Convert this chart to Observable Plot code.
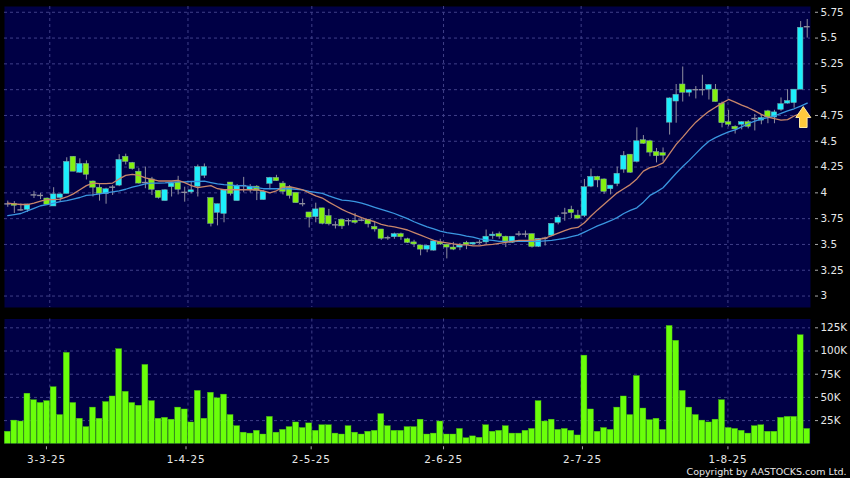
<!DOCTYPE html>
<html><head><meta charset="utf-8">
<script src="https://cdn.jsdelivr.net/npm/d3@7"></script>
<script src="https://cdn.jsdelivr.net/npm/@observablehq/plot@0.6"></script>
<style>html,body{margin:0;padding:0;background:#000;width:850px;height:478px;overflow:hidden}svg{display:block}
g[aria-label="x-axis tick label"]{letter-spacing:.8px}</style>
</head><body><div id="c"></div>
<script>
const opens=[3.893,3.893,3.835,3.835,3.98,3.975,3.945,3.868,3.95,3.99,4.35,4.195,4.28,4.11,4.05,3.987,4.055,4.07,4.35,4.29,4.205,4.10,4.13,4.02,3.92,4.055,4.10,4.005,4.005,4.06,4.165,3.95,3.806,3.796,4.10,3.92,4.07,4.03,4.06,3.93,4.087,4.145,4.09,4.05,4.0,3.895,3.81,3.765,3.85,3.775,3.69,3.74,3.73,3.73,3.735,3.74,3.67,3.645,3.565,3.57,3.60,3.55,3.52,3.49,3.45,3.44,3.52,3.497,3.47,3.47,3.516,3.5,3.52,3.52,3.58,3.60,3.575,3.516,3.60,3.60,3.60,3.477,3.56,3.585,3.71,3.804,3.836,3.78,3.775,4.06,4.155,4.13,4.035,4.085,4.225,4.37,4.30,4.51,4.50,4.395,4.385,4.68,4.885,5.05,4.97,5.0,5.0,5.0,5.0,4.865,4.685,4.64,4.66,4.685,4.72,4.70,4.79,4.73,4.805,4.865,4.87,5.0,5.61];
const closes=[3.893,3.875,3.835,3.887,3.98,3.975,3.885,3.985,3.985,4.30,4.205,4.28,4.175,4.05,3.99,4.035,4.055,4.32,4.30,4.23,4.09,4.10,4.03,3.95,4.025,4.09,4.03,4.005,4.025,4.25,4.25,3.70,3.89,4.025,3.99,4.065,4.07,4.06,4.02,4.01,4.145,4.113,4.01,3.97,3.90,3.895,3.76,3.84,3.70,3.695,3.69,3.675,3.73,3.71,3.735,3.695,3.645,3.555,3.565,3.60,3.57,3.515,3.50,3.45,3.487,3.53,3.50,3.47,3.45,3.49,3.497,3.516,3.52,3.575,3.595,3.575,3.52,3.575,3.60,3.60,3.475,3.555,3.56,3.70,3.76,3.804,3.804,3.75,4.055,4.155,4.12,4.01,4.07,4.185,4.36,4.195,4.50,4.475,4.39,4.355,4.36,4.915,4.95,4.97,4.995,5.0,5.0,5.045,4.88,4.675,4.66,4.615,4.685,4.64,4.72,4.725,4.73,4.78,4.86,4.89,5.0,5.60,5.61];
const highs=[3.92,3.915,3.893,3.89,4.015,3.995,3.95,4.05,3.99,4.34,4.35,4.33,4.31,4.115,4.08,4.045,4.07,4.37,4.375,4.295,4.235,4.25,4.15,4.02,4.03,4.10,4.16,4.055,4.11,4.27,4.28,3.95,3.89,4.03,4.10,4.08,4.15,4.08,4.07,4.02,4.15,4.17,4.11,4.07,4.0,3.94,3.81,3.90,3.85,3.84,3.72,3.74,3.745,3.80,3.75,3.74,3.72,3.645,3.58,3.61,3.61,3.56,3.54,3.49,3.49,3.54,3.55,3.50,3.52,3.51,3.53,3.52,3.54,3.64,3.62,3.62,3.58,3.575,3.625,3.63,3.60,3.555,3.57,3.70,3.78,3.85,3.87,3.83,4.13,4.23,4.16,4.135,4.07,4.25,4.40,4.37,4.63,4.555,4.51,4.43,4.435,4.92,5.05,5.22,5.0,5.03,5.14,5.05,5.05,4.88,4.8,4.65,4.69,4.7,4.76,4.76,4.8,4.8,4.92,5.0,5.0,5.66,5.68];
const lows=[3.86,3.80,3.82,3.81,3.945,3.935,3.88,3.868,3.91,3.99,4.205,4.19,4.125,3.96,3.92,3.89,3.975,4.06,4.27,4.22,4.085,4.04,3.975,3.94,3.92,3.96,3.98,3.91,3.99,3.96,4.14,3.67,3.68,3.71,3.97,3.92,4.0,4.0,3.925,3.93,4.03,4.11,3.98,3.94,3.90,3.865,3.66,3.71,3.69,3.68,3.65,3.645,3.68,3.695,3.72,3.66,3.62,3.54,3.54,3.55,3.54,3.51,3.47,3.39,3.42,3.435,3.49,3.36,3.44,3.44,3.45,3.495,3.50,3.50,3.55,3.55,3.47,3.51,3.575,3.565,3.465,3.47,3.485,3.575,3.69,3.725,3.75,3.74,3.76,4.05,4.05,3.985,3.98,4.06,4.19,4.19,4.29,4.47,4.35,4.29,4.30,4.56,4.675,4.88,4.93,4.91,4.94,4.90,4.88,4.63,4.64,4.57,4.61,4.62,4.60,4.66,4.67,4.67,4.79,4.86,4.82,5.0,5.50];
const volumes=[13,25,24,54,47,44,46,61,31,98,44,27,18,39,27,45,51,102,56,44,41,85,46,27,28,26,39,37,23,57,27,55,49,53,31,19,12,11,14,10,29,12,15,18,23,17,22,14,20,20,11,10,19,12,10,13,14,32,19,14,14,18,18,26,10,11,24,10,10,16,6,8,6.5,20,13,14,19,11,11,14,16,46,24,26,15,16,14,9,95,37,13,17,15,39,51,31,73,38,25.5,27,15,127,111,57,39,31,25,23,26,47,17,16,14,11,19,20,13,13,28,29,29,117,16];
const maShort=[3.90,3.893,3.887,3.887,3.90,3.92,3.935,3.935,3.94,3.96,3.99,4.03,4.07,4.095,4.09,4.09,4.095,4.135,4.17,4.18,4.17,4.145,4.13,4.115,4.115,4.115,4.12,4.10,4.07,4.05,4.06,4.07,4.04,4.03,4.03,4.03,4.03,4.03,4.03,4.02,4.0,4.02,4.055,4.06,4.045,4.03,4.0,3.97,3.95,3.91,3.875,3.84,3.81,3.785,3.76,3.737,3.72,3.695,3.68,3.67,3.655,3.64,3.615,3.59,3.565,3.54,3.525,3.515,3.505,3.497,3.495,3.487,3.487,3.495,3.5,3.51,3.52,3.53,3.54,3.54,3.54,3.55,3.56,3.585,3.61,3.635,3.655,3.665,3.71,3.775,3.835,3.89,3.945,4.0,4.04,4.08,4.135,4.21,4.245,4.26,4.29,4.38,4.47,4.54,4.615,4.685,4.74,4.79,4.83,4.87,4.905,4.88,4.85,4.825,4.795,4.76,4.735,4.72,4.705,4.71,4.745,4.77];
const maLong=[3.78,3.79,3.80,3.825,3.85,3.875,3.885,3.90,3.915,3.925,3.94,3.955,3.975,3.98,3.99,4.0,4.01,4.02,4.035,4.055,4.07,4.087,4.095,4.095,4.097,4.103,4.107,4.107,4.11,4.11,4.113,4.10,4.087,4.08,4.075,4.07,4.07,4.06,4.05,4.04,4.04,4.04,4.04,4.04,4.035,4.03,4.015,4.005,3.995,3.97,3.95,3.93,3.925,3.915,3.90,3.88,3.86,3.84,3.82,3.80,3.775,3.75,3.72,3.695,3.67,3.65,3.63,3.615,3.605,3.595,3.58,3.57,3.555,3.545,3.54,3.53,3.53,3.53,3.53,3.53,3.53,3.53,3.535,3.54,3.55,3.56,3.575,3.59,3.62,3.65,3.68,3.705,3.73,3.76,3.80,3.83,3.855,3.91,3.975,4.01,4.05,4.12,4.19,4.255,4.315,4.38,4.445,4.50,4.535,4.565,4.59,4.61,4.64,4.67,4.695,4.715,4.73,4.745,4.77,4.795,4.815,4.84,4.87];
const gridIdx=[6.41,27.5,46.4,66.5,87.5,109.9];
const tickIdx=[5.9,27.2,46.3,66.5,87.7,109.9];
const tickLabels=["3-3-25","1-4-25","2-5-25","2-6-25","2-7-25","1-8-25"];
const priceTicks=[3,3.25,3.5,3.75,4,4.25,4.5,4.75,5,5.25,5.5,5.75];
const volTicks=[25,50,75,100,125];
const arrowAt={i:121.4,price:4.73};
const copyright="Copyright by AASTOCKS.com Ltd.";

const N=closes.length;
const bars=d3.range(N).map(i=>({i,o:opens[i],c:closes[i],h:highs[i],l:lows[i],v:volumes[i]}));
const navy="#000045", gridC="#3f3f88", txt="#e8e8e8", font="'DejaVu Sans',sans-serif";
const up="#1ceefc", down="#84f010", edge="#7aa8a8", doji="#8f8f9f";
const xDomain=[-0.5,122.5];
const gridDash={stroke:gridC,strokeWidth:1,strokeDasharray:"3,3"};

const arrow={draw(ctx,size){
  const s=Math.sqrt(size)/24;
  ctx.moveTo(0,-11*s);ctx.lineTo(7.5*s,0);ctx.lineTo(3.8*s,0);ctx.lineTo(3.8*s,10*s);
  ctx.lineTo(-3.8*s,10*s);ctx.lineTo(-3.8*s,0);ctx.lineTo(-7.5*s,0);ctx.closePath();}};

const price=Plot.plot({
  width:850,height:313,marginLeft:4,marginRight:40,marginTop:6,marginBottom:6,
  style:{background:"#000",fontFamily:font},
  x:{domain:xDomain,axis:null},
  y:{domain:[2.889,5.806],axis:null},
  marks:[
    Plot.frame({fill:navy}),
    Plot.ruleX(gridIdx,gridDash),
    Plot.ruleY(priceTicks,gridDash),
    Plot.axisY({anchor:"right",ticks:priceTicks,tickFormat:d=>String(d),tickSize:3,tickPadding:3,dx:4,stroke:"#aaa",fill:txt,fontSize:10.4,label:null}),
    Plot.ruleX(bars,{x:"i",y1:"l",y2:"h",stroke:doji,strokeWidth:1}),
    Plot.ruleY(bars.filter(d=>d.o===d.c),{y:"c",x1:d=>d.i-0.45,x2:d=>d.i+0.45,stroke:doji,strokeWidth:1.4}),
    Plot.rect(bars.filter(d=>d.o!==d.c),{x1:d=>d.i-0.42,x2:d=>d.i+0.42,y1:"o",y2:"c",
      fill:d=>d.c>d.o?up:down,stroke:edge,strokeWidth:0.5}),
    Plot.line(maLong,{x:(d,i)=>i,y:d=>d,stroke:"#3a96e0",strokeWidth:1.3}),
    Plot.line(maShort,{x:(d,i)=>i,y:d=>d,stroke:"#c9866a",strokeWidth:1.3}),
    Plot.dot([arrowAt],{x:"i",y:"price",symbol:arrow,r:13.5,fill:"#ffc93c",stroke:"#ffe9a0",strokeWidth:1})
  ]});

const vol=Plot.plot({
  width:850,height:165,marginLeft:4,marginRight:40,marginTop:5.5,marginBottom:34.7,
  style:{background:"#000",fontFamily:font},
  x:{domain:xDomain,axis:null},
  y:{domain:[0,134.5],axis:null},
  marks:[
    Plot.frame({fill:navy}),
    Plot.ruleX(gridIdx,gridDash),
    Plot.ruleY(volTicks,gridDash),
    Plot.rectY(bars,{x1:d=>d.i-0.45,x2:d=>d.i+0.45,y1:0,y2:"v",fill:"#6aff0a",stroke:"#46b810",strokeWidth:0.4}),
    Plot.axisY({anchor:"right",ticks:volTicks,tickFormat:d=>d+"K",tickSize:3,tickPadding:3,dx:4,stroke:"#aaa",fill:txt,fontSize:10.4,label:null}),
    Plot.axisX({anchor:"bottom",ticks:tickIdx,tickFormat:(d,i)=>tickLabels[i],tickSize:3,tickPadding:6,dy:3,stroke:"#aaa",fill:txt,fontSize:10.4,label:null}),
    Plot.text([copyright],{text:d=>d,frameAnchor:"bottom-right",dx:36,dy:31,fill:txt,fontSize:9.5,textAnchor:"end"})
  ]});

const c=document.getElementById("c");c.append(price,vol);
</script></body></html>
